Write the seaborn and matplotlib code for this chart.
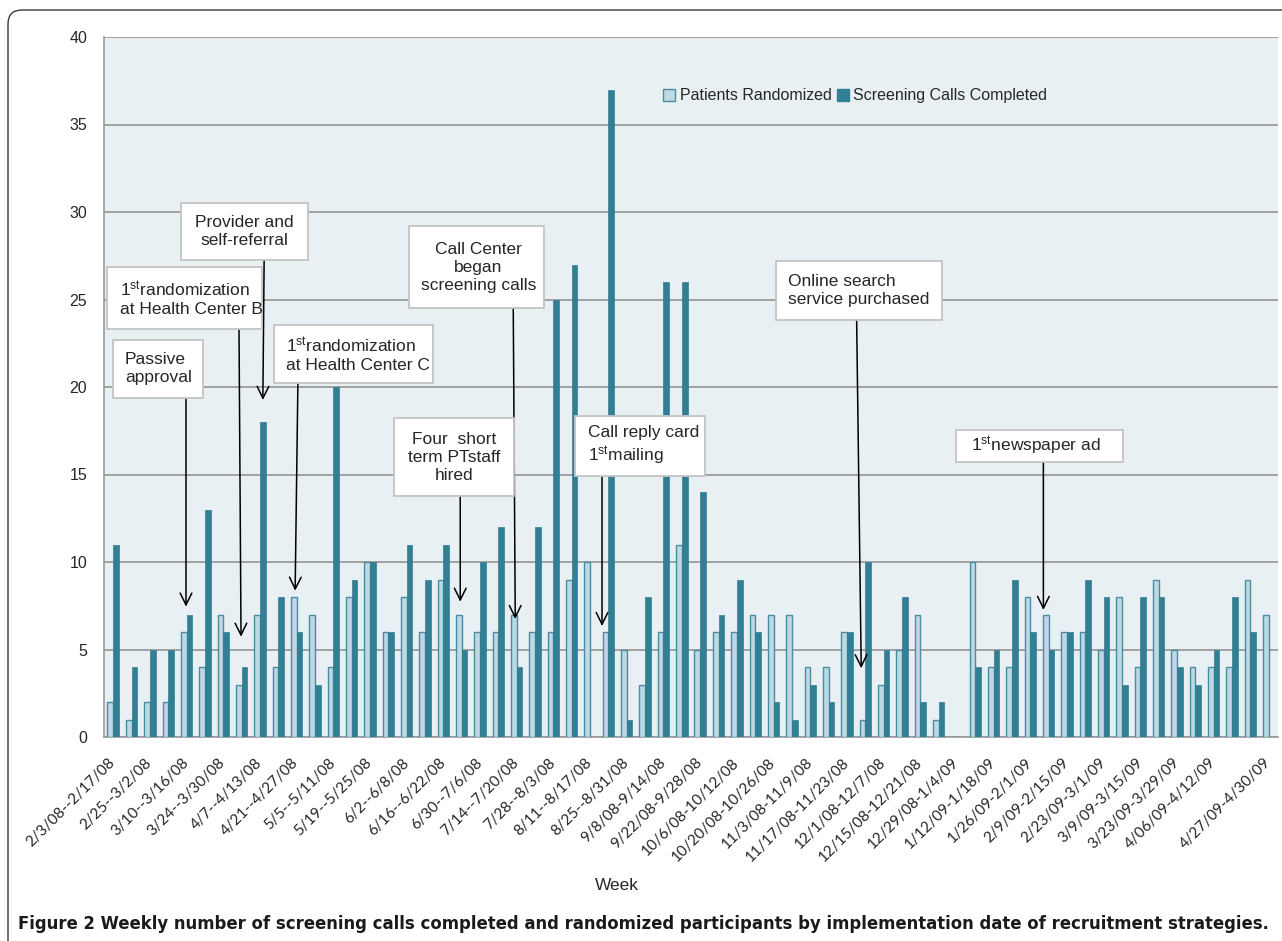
import numpy as np
import pandas as pd
import matplotlib
matplotlib.use("Agg")
import matplotlib.pyplot as plt
import seaborn as sns
from matplotlib.patches import Rectangle, FancyBboxPatch, Patch
from matplotlib import font_manager

# %% data (one entry per week)
week_labels = [
    "2/3/08--2/17/08", "", "2/25--3/2/08", "", "3/10--3/16/08", "",
    "3/24--3/30/08", "", "4/7--4/13/08", "", "4/21--4/27/08", "",
    "5/5--5/11/08", "", "5/19--5/25/08", "", "6/2--6/8/08", "",
    "6/16--6/22/08", "", "6/30--7/6/08", "", "7/14--7/20/08", "",
    "7/28--8/3/08", "", "8/11--8/17/08", "", "8/25--8/31/08", "",
    "9/8/08-9/14/08", "", "9/22/08-9/28/08", "", "10/6/08-10/12/08", "",
    "10/20/08-10/26/08", "", "11/3/08-11/9/08", "", "11/17/08-11/23/08", "",
    "12/1/08-12/7/08", "", "12/15/08-12/21/08", "", "12/29/08-1/4/09", "",
    "1/12/09-1/18/09", "", "1/26/09-2/1/09", "", "2/9/09-2/15/09", "",
    "2/23/09-3/1/09", "", "3/9/09-3/15/09", "", "3/23/09-3/29/09", "",
    "4/06/09-4/12/09", "", "", "4/27/09-4/30/09",
]

randomized = [2, 1, 2, 2, 6, 4, 7, 3, 7, 4, 8, 7, 4, 8, 10, 6,
              8, 6, 9, 7, 6, 6, 7, 6, 6, 9, 10, 6, 5, 3, 6, 11,
              5, 6, 6, 7, 7, 7, 4, 4, 6, 1, 3, 5, 7, 1, 0, 10,
              4, 4, 8, 7, 6, 6, 5, 8, 4, 9, 5, 4, 4, 4, 9, 7]

screening = [11, 4, 5, 5, 7, 13, 6, 4, 18, 8, 6, 3, 20, 9, 10, 6,
             11, 9, 11, 5, 10, 12, 4, 12, 25, 27, 0, 37, 1, 8, 26, 26,
             14, 7, 9, 6, 2, 1, 3, 2, 6, 10, 5, 8, 2, 2, 0, 4,
             5, 9, 6, 5, 6, 9, 8, 3, 8, 8, 4, 3, 5, 8, 6, 0]

series_names = ["Patients Randomized", "Screening Calls Completed"]

# %% annotations: text, box (x0, x1, ybottom, ytop), text x, alignment, arrow (x_from, x_to, y_tip)
notes = [
    ("Passive\napproval", (-0.01, 4.90, 19.37, 22.69), 0.65, "left", (3.97, 3.97, 7.45)),
    ("1$^{\\rm st}$randomization\nat Health Center B", (-0.34, 8.12, 23.31, 26.86), 0.37, "left", (6.86, 6.97, 5.73)),
    ("Provider and\nself-referral", (3.70, 10.63, 27.26, 30.51), 7.15, "center", (8.23, 8.16, 19.26)),
    ("1$^{\\rm st}$randomization\nat Health Center C", (8.77, 17.45, 20.23, 23.54), 9.40, "left", (10.07, 9.92, 8.36)),
    ("Four  short\nterm PTstaff\nhired", (15.32, 21.87, 13.77, 18.23), 18.6, "center", (18.92, 18.92, 7.73)),
    ("Call Center\nbegan\nscreening calls", (16.14, 23.50, 24.51, 29.20), 19.9, "center", (21.81, 21.92, 6.74)),
    ("Call reply card\n1$^{\\rm st}$mailing", (25.20, 32.29, 14.91, 18.34), 25.90, "left", (26.65, 26.65, 6.34)),
    ("Online search\nservice purchased", (36.11, 45.16, 23.83, 27.20), 36.80, "left", (40.53, 40.78, 3.93)),
    ("1$^{\\rm st}$newspaper ad", (45.93, 55.04, 15.71, 17.54), 46.74, "left", (50.71, 50.71, 7.26)),
]

# %% long table for seaborn
n = len(randomized)
df = pd.DataFrame({
    "week": list(range(n)) * 2,
    "count": randomized + screening,
    "series": [series_names[0]] * n + [series_names[1]] * n,
})

light = "#bcd9e4"
light_edge = "#4a8ca2"
dark = "#327e93"
bg = "#e9f0f4"
grid_c = "#9a9a9a"

# %% figure
sns.set_style("white")
plt.rcParams["font.family"] = ["Liberation Sans", "DejaVu Sans"]
plt.rcParams["mathtext.fontset"] = "custom"
plt.rcParams["mathtext.rm"] = "Liberation Sans"
plt.rcParams["mathtext.it"] = "Liberation Sans:italic"
plt.rcParams["mathtext.bf"] = "Liberation Sans:bold"

fig = plt.figure(figsize=(12.82, 9.41), dpi=100)
ax = fig.add_axes([104 / 1282, 1 - 737 / 941, (1278 - 104) / 1282, 700 / 941])
ax.set_facecolor(bg)

sns.barplot(data=df, x="week", y="count", hue="series",
            palette=[light, dark], width=0.62, saturation=1,
            ax=ax, legend=False, zorder=3)

for p in ax.containers[0]:
    p.set_edgecolor(light_edge)
    p.set_linewidth(1.0)
for p in ax.containers[1]:
    p.set_edgecolor(dark)
    p.set_linewidth(0.5)

# axes
ax.set_xlim(-0.5, n - 0.5)
ax.set_ylim(0, 40)
ax.set_yticks(np.arange(0, 41, 5))
ax.yaxis.grid(True, color=grid_c, lw=1.3, zorder=0)
ax.set_axisbelow(True)
ax.tick_params(axis="y", length=6, color=grid_c, pad=6, labelsize=11.5)

ax.set_xticks(np.arange(-0.5, n, 1.0))
ax.set_xticklabels([])
ax.tick_params(axis="x", which="major", length=6, color=grid_c)
lab_pos = [i for i, s in enumerate(week_labels) if s]
ax.set_xticks(lab_pos, [week_labels[i] for i in lab_pos], minor=True)
ax.tick_params(axis="x", which="minor", length=0, pad=17)
for t in ax.get_xticklabels(minor=True):
    t.set_rotation(45)
    t.set_ha("right")
    t.set_va("center")
    t.set_rotation_mode("anchor")
    t.set_family(["Lato", "DejaVu Sans"])
    t.set_fontsize(11)

ax.set_xlabel("")
ax.set_ylabel("")
for s in ["top", "right"]:
    ax.spines[s].set_visible(False)
for s in ["left", "bottom"]:
    ax.spines[s].set_color(grid_c)
    ax.spines[s].set_linewidth(1.2)

# legend
handles = [Patch(facecolor=light, edgecolor=light_edge, lw=1),
           Patch(facecolor=dark, edgecolor=dark)]
ax.legend(handles, series_names, loc="center left", bbox_to_anchor=(0.464, 0.916),
          ncol=2, frameon=False, fontsize=11.5, handlelength=0.75, handleheight=0.75,
          handletextpad=0.3, columnspacing=0.3)

# annotation boxes and arrows
for text, (x0, x1, y0, y1), tx, ha, (ax0, ax1, ytip) in notes:
    ax.add_patch(Rectangle((x0, y0), x1 - x0, y1 - y0, facecolor="white",
                           edgecolor="#c4c4c4", lw=1.3, zorder=6))
    ax.text(tx, (y0 + y1) / 2, text, ha=ha, va="center", fontsize=12.5,
            linespacing=1.25, zorder=7, multialignment=ha)
    ax.annotate("", xy=(ax1, ytip), xytext=(ax0, y0),
                arrowprops=dict(arrowstyle="->,head_length=0.85,head_width=0.42",
                                color="black", lw=1.1, shrinkA=0, shrinkB=0),
                zorder=5)

# axis title and caption
fig.text(617 / 1282, 1 - 886 / 941, "Week", ha="center", va="center", fontsize=12.5)

names = {f.name for f in font_manager.fontManager.ttflist}
cap_family = "Liberation Sans Narrow" if "Liberation Sans Narrow" in names else "DejaVu Sans"
cap = fig.text(18 / 1282, 1 - 924 / 941,
               "Figure 2 Weekly number of screening calls completed and randomized "
               "participants by implementation date of recruitment strategies.",
               ha="left", va="center", fontsize=14, fontweight="bold",
               family=cap_family, color="#1a1a1a")
fig.canvas.draw()
w = cap.get_window_extent().width
cap.set_fontsize(14 * (1257 / w))

# outer frame of the journal figure
frame = FancyBboxPatch((8, -60), 1320, 931 + 60, boxstyle="round,pad=0,rounding_size=14",
                       transform=None, facecolor="none", edgecolor="#3a3a3a", lw=1.0)
fig.add_artist(frame)

fig.savefig("out.png", dpi=100)
